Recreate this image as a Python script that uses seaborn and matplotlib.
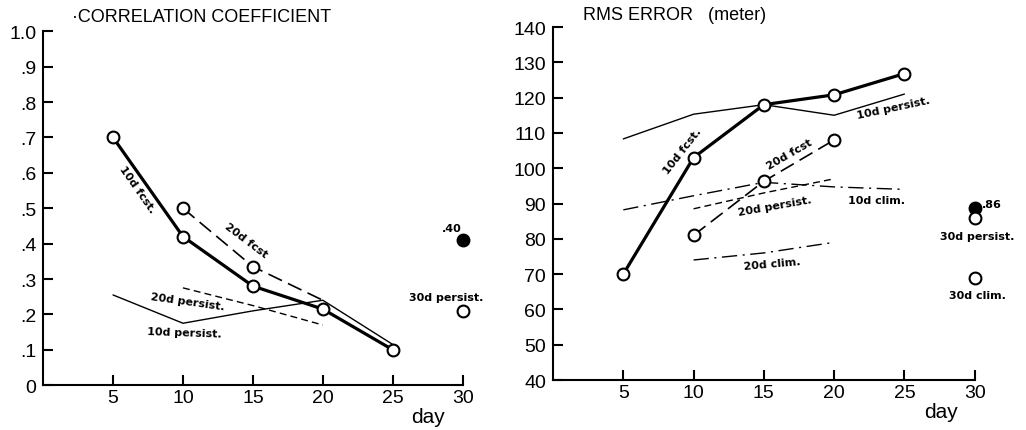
"""
Recreates the two-panel forecast verification chart:
correlation coefficient (left) and RMS error (right) by forecast day.
"""

import matplotlib
matplotlib.use('Agg')
import seaborn as sns
import matplotlib.pyplot as plt

#%%
##  Data

#  Correlation coefficient panel
corr_days = [5, 10, 15, 20, 25]
corr_10d_fcst = [0.70, 0.42, 0.28, 0.215, 0.10]
corr_10d_persist = [0.255, 0.175, 0.21, 0.24, 0.115]
corr_20d_fcst_days = [10, 15, 20]
corr_20d_fcst = [0.50, 0.335, 0.24]
corr_20d_persist_days = [10, 15, 20]
corr_20d_persist = [0.275, 0.225, 0.17]
corr_30d_days = [30]
corr_30d_persist = [0.21]
corr_30d_fcst = [0.41]

#  RMS error panel
rms_days = [5, 10, 15, 20, 25]
rms_10d_fcst = [70, 103, 118, 120.8, 126.8]
rms_10d_persist = [108.3, 115.3, 118, 115, 121]
rms_10d_clim = [88.2, 92.2, 96, 94.7, 94]
rms_20_days = [10, 15, 20]
rms_20d_fcst = [81, 96.3, 108]
rms_20d_persist = [88.5, 93, 97]
rms_20d_clim = [74, 76, 79]
rms_30d_days = [30]
rms_30d_fcst = [88.6]
rms_30d_persist = [86]
rms_30d_clim = [69]

corr_ticks = [0, 0.1, 0.2, 0.3, 0.4, 0.5, 0.6, 0.7, 0.8, 0.9, 1.0]
corr_tick_labels = ['0', '.1', '.2', '.3', '.4', '.5', '.6', '.7', '.8', '.9', '1.0']
rms_ticks = [40, 50, 60, 70, 80, 90, 100, 110, 120, 130, 140]
day_ticks = [5, 10, 15, 20, 25, 30]

#%%
##  Style
sns.set_style('ticks')
plt.rcParams['font.family'] = ['Liberation Sans', 'DejaVu Sans']
plt.rcParams['axes.linewidth'] = 1.5
plt.rcParams['text.color'] = 'black'
plt.rcParams['axes.edgecolor'] = 'black'

LAB = dict(family='DejaVu Sans', fontsize=8, fontweight='bold',
           ha='center', va='center', color='black')

fig = plt.figure(figsize=(10.26, 4.31), dpi=100)
ax1 = fig.add_axes([0.042, 0.104, 0.409, 0.821])
ax2 = fig.add_axes([0.539, 0.116, 0.411, 0.819])

bold = dict(color='black', linewidth=2.3, marker='o', markersize=8.5,
            markerfacecolor='white', markeredgecolor='black',
            markeredgewidth=1.5)
thin = dict(color='black', linewidth=1.0)


def open_pt(ax, x, y, filled=False):
    sns.lineplot(x=x, y=y, ax=ax, marker='o', markersize=8.5, linestyle='none',
                 markerfacecolor='black' if filled else 'white',
                 markeredgecolor='black', markeredgewidth=1.5, color='black')


#%%
##  Left panel: correlation coefficient
sns.lineplot(x=corr_days, y=corr_10d_persist, ax=ax1, **thin)
sns.lineplot(x=corr_20d_persist_days, y=corr_20d_persist, ax=ax1,
             dashes=False, linestyle=(0, (5, 3)), **thin)
sns.lineplot(x=corr_20d_fcst_days, y=corr_20d_fcst, ax=ax1, color='black',
             linewidth=1.2, linestyle=(0, (9, 4)))
open_pt(ax1, corr_20d_fcst_days[:2], corr_20d_fcst[:2])
sns.lineplot(x=corr_days, y=corr_10d_fcst, ax=ax1, **bold)
open_pt(ax1, corr_30d_days, corr_30d_persist)
open_pt(ax1, corr_30d_days, corr_30d_fcst, filled=True)

ax1.text(6.7, 0.555, '10d fcst.', rotation=-55, **LAB)
ax1.text(14.5, 0.412, '20d fcst', rotation=-37, **LAB)
ax1.text(10.3, 0.237, '20d persist.', rotation=-8, **LAB)
ax1.text(10.1, 0.15, '10d persist.', rotation=-2, **LAB)
ax1.text(28.8, 0.25, '30d persist.', **LAB)
ax1.text(29.2, 0.443, '.40', **LAB)

ax1.set_xlim(0, 30)
ax1.set_ylim(0, 1.0)
ax1.set_yticks(corr_ticks)
ax1.set_yticklabels(corr_tick_labels)
ax1.text(27.5, -0.088, 'day', transform=ax1.get_xaxis_transform(),
         ha='center', va='center', fontsize=15)
fig.text(72 / 1026, 1 - 18 / 431, '\u00b7CORRELATION COEFFICIENT',
         fontsize=13, va='center', ha='left')

#%%
##  Right panel: RMS error
sns.lineplot(x=rms_days, y=rms_10d_persist, ax=ax2, **thin)
sns.lineplot(x=rms_days, y=rms_10d_clim, ax=ax2, dashes=False,
             linestyle=(0, (11, 4, 1.5, 4)), **thin)
sns.lineplot(x=rms_20_days, y=rms_20d_persist, ax=ax2, dashes=False,
             linestyle=(0, (5, 3)), **thin)
sns.lineplot(x=rms_20_days, y=rms_20d_clim, ax=ax2, dashes=False,
             linestyle=(0, (11, 4, 1.5, 4)), **thin)
sns.lineplot(x=rms_20_days, y=rms_20d_fcst, ax=ax2, color='black',
             linewidth=1.2, linestyle=(0, (9, 4)))
open_pt(ax2, rms_20_days, rms_20d_fcst)
sns.lineplot(x=rms_days, y=rms_10d_fcst, ax=ax2, **bold)
open_pt(ax2, rms_30d_days, rms_30d_fcst, filled=True)
open_pt(ax2, rms_30d_days, rms_30d_persist)
open_pt(ax2, rms_30d_days, rms_30d_clim)

ax2.text(9.2, 105, '10d fcst.', rotation=52, **LAB)
ax2.text(24.2, 117.3, '10d persist.', rotation=12, **LAB)
ax2.text(16.8, 104, '20d fcst', rotation=30, **LAB)
ax2.text(15.8, 89.3, '20d persist.', rotation=10, **LAB)
ax2.text(23.0, 91, '10d clim.', **LAB)
ax2.text(15.6, 72.9, '20d clim.', rotation=5, **LAB)
ax2.text(31.2, 89.8, '.86', **LAB)
ax2.text(30.2, 80.8, '30d persist.', **LAB)
ax2.text(30.2, 64, '30d clim.', **LAB)

ax2.set_xlim(0, 30)
ax2.set_ylim(40, 140)
ax2.set_yticks(rms_ticks)
ax2.text(27.6, -0.09, 'day', transform=ax2.get_xaxis_transform(),
         ha='center', va='center', fontsize=15)
fig.text(583 / 1026, 1 - 15 / 431, 'RMS ERROR   (meter)',
         fontsize=13, va='center', ha='left')

#%%
##  Shared axis formatting
for ax in (ax1, ax2):
    sns.despine(ax=ax)
    ax.set_xticks(day_ticks)
    ax.set_xlabel('')
    ax.set_ylabel('')
    ax.tick_params(direction='in', length=7, width=1.5, labelsize=14,
                   colors='black')
    ax.tick_params(axis='x', pad=3)
    ax.tick_params(axis='y', pad=5)
    for line in ax.lines:
        line.set_clip_on(False)

fig.savefig('out.png', dpi=100)
